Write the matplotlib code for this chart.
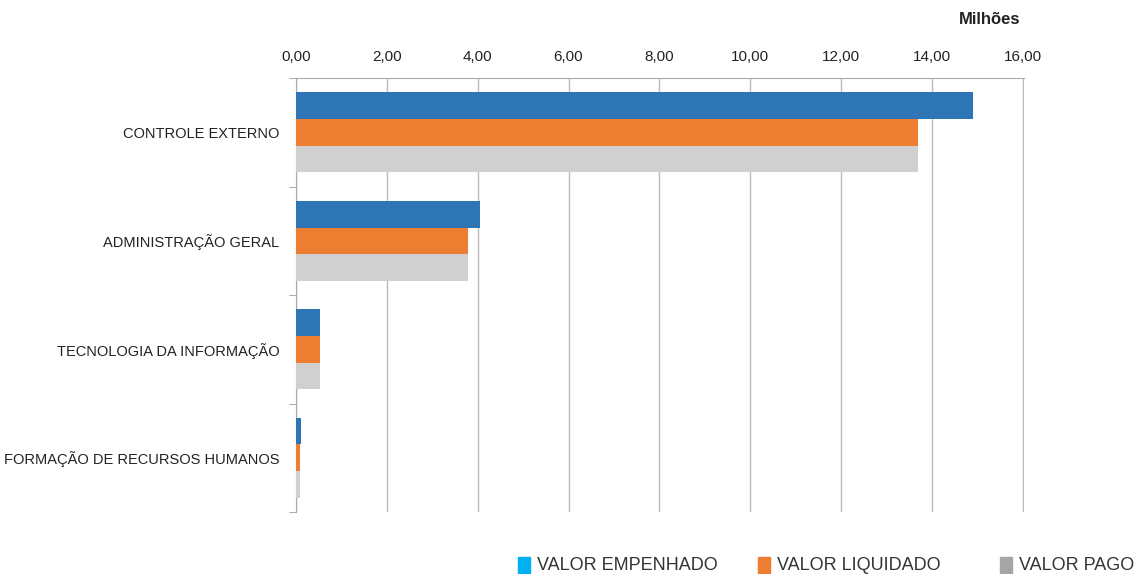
import matplotlib.pyplot as plt
import matplotlib.patches as mpatches
import numpy as np

plt.rcParams['font.family'] = ['Liberation Sans', 'DejaVu Sans']

categorias = ['CONTROLE EXTERNO', 'ADMINISTRAÇÃO GERAL',
              'TECNOLOGIA DA INFORMAÇÃO', 'FORMAÇÃO DE RECURSOS HUMANOS']
empenhado = [14.90, 4.04, 0.53, 0.11]
liquidado = [13.69, 3.78, 0.53, 0.09]
pago = [13.69, 3.78, 0.53, 0.09]
ticks = np.arange(0, 17, 2)
tick_labels = ['%.2f' % t for t in ticks]
tick_labels = [s.replace('.', ',') for s in tick_labels]

series = [('VALOR EMPENHADO', empenhado, '#2E75B6', '#00B0F0'),
          ('VALOR LIQUIDADO', liquidado, '#ED7D31', '#ED7D31'),
          ('VALOR PAGO', pago, '#D0D0D0', '#A5A5A5')]

fig = plt.figure(figsize=(11.39, 5.74), dpi=100)
ax = fig.add_axes([0.26, 0.108, 0.639, 0.756])

y = np.arange(len(categorias))
h = 0.245
for i, (nome, vals, cor, _) in enumerate(series):
    ax.barh(y + (i - 1) * h, vals, height=h, color=cor, zorder=3)

ax.set_xlim(0, 16.03)
ax.set_ylim(len(categorias) - 0.5, -0.5)
ax.xaxis.tick_top()
ax.set_xticks(ticks)
ax.set_xticklabels(tick_labels, fontsize=11, color='#222222')
ax.tick_params(axis='x', length=0, pad=10)
ax.set_yticks(y)
ax.set_yticklabels(categorias, fontsize=10.5, color='#222222')
ax.tick_params(axis='y', length=0, pad=12)
ax.set_yticks(np.arange(len(categorias) + 1) - 0.5, minor=True)
ax.tick_params(axis='y', which='minor', length=5, color='#999999')
ax.grid(axis='x', color='#BBBBBB', linewidth=1, zorder=0)
for s in ['right', 'bottom']:
    ax.spines[s].set_visible(False)
ax.spines['left'].set_color('#AAAAAA')
ax.spines['top'].set_color('#AAAAAA')

fig.text(1020 / 1139, 1 - 20 / 574, 'Milhões', ha='right', va='center',
         fontsize=12, fontweight='bold', color='#222222')

# legenda
legx = [518, 758, 1000]
for (nome, vals, _, corleg), x0 in zip(series, legx):
    fig.add_artist(mpatches.Rectangle((x0 / 1139, 1 - 573 / 574), 12 / 1139, 16 / 574,
                                      transform=fig.transFigure, color=corleg))
    fig.text((x0 + 19) / 1139, 1 - 565 / 574, nome, ha='left', va='center',
             fontsize=13, color='#333333')

fig.savefig('out.png', dpi=100)
